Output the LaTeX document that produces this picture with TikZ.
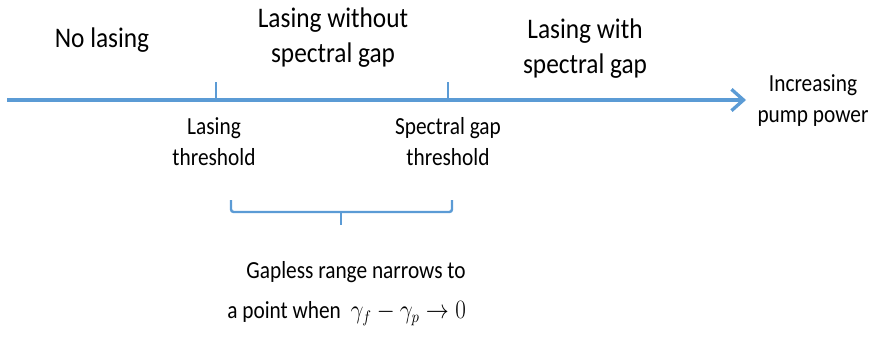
\documentclass[tikz,border=0pt]{standalone}
\usepackage{fontspec}
\setmainfont{Carlito}
\usetikzlibrary{arrows.meta}
\definecolor{axisblue}{HTML}{5B9BD5}
\tikzset{
  bigtext/.style={align=center, font=\fontsize{19}{23.4}\selectfont, inner sep=0pt,
    yscale=1.12, transform shape},
  smalltext/.style={align=center, font=\fontsize{16}{20.2}\selectfont, inner sep=0pt,
    yscale=1.15, transform shape},
  axisline/.style={axisblue, line width=3pt},
  bracket/.style={axisblue, line width=1.8pt, rounded corners=2pt}
}
\begin{document}
\begin{tikzpicture}[x=0.75pt, y=-0.75pt]
    \useasboundingbox (0,0) rectangle (871,339);

    % trục công suất bơm
    \coordinate (start) at (7,100);
    \coordinate (stop) at (746,100);
    \coordinate (T1) at (216,100);
    \coordinate (T2) at (448,100);
    \coordinate (T1top) at (216,82);
    \coordinate (T2top) at (448,82);

    \draw[axisline, -{Straight Barb[length=9pt, width=16pt, line width=2.5pt]}] (start) -- (stop);
    \draw[axisblue, line width=2pt] (T1) -- (T1top);
    \draw[axisblue, line width=2pt] (T2) -- (T2top);

    % các vùng
    \node[bigtext] (nolasing) at (102,40) {No lasing};
    \node[bigtext] (nogap) at (333,38) {Lasing without\\spectral gap};
    \node[bigtext] (withgap) at (585,49) {Lasing with\\spectral gap};
    \node[smalltext] (pump) at (813,101) {Increasing\\pump power};

    % các ngưỡng
    \node[smalltext] (lasthr) at (214,142) {Lasing\\threshold};
    \node[smalltext] (gapthr) at (448,142) {Spectral gap\\threshold};

    % dấu ngoặc
    \coordinate (BL) at (231,200);
    \coordinate (BR) at (452,200);
    \coordinate (BM) at (341,212);
    \coordinate (BMtip) at (341,225);
    \draw[bracket] (BL) -- (BL |- BM) -- (BR |- BM) -- (BR);
    \draw[axisblue, line width=1.8pt] (BM) -- (BMtip);

    \node[smalltext] (range) at (356,272) {Gapless range narrows to};
    \node[smalltext, anchor=west] (point) at (227,314) {a point when \ $\gamma_f-\gamma_p\to 0$};
\end{tikzpicture}
\end{document}
